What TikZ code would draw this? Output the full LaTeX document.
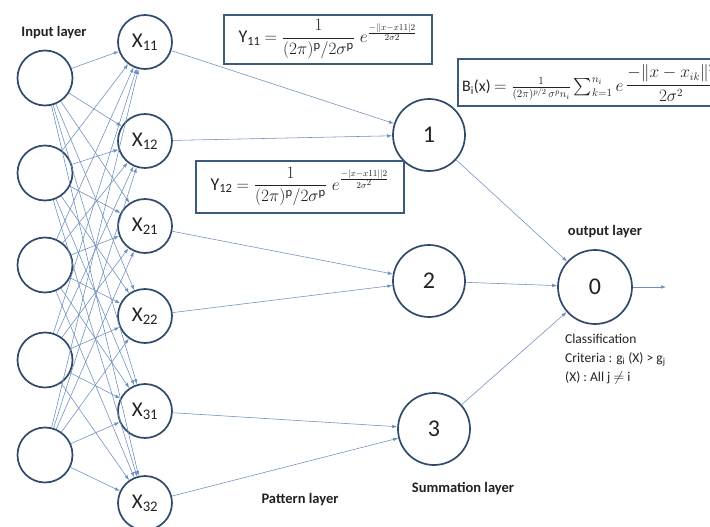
\documentclass[tikz,border=0pt]{standalone}
\usepackage{amsmath}
\usepackage{fontspec}
\setmainfont{Carlito}
\usetikzlibrary{arrows.meta}
\definecolor{circc}{HTML}{2F4A6A}
\definecolor{connc}{HTML}{6C8DBE}
\definecolor{boxc}{HTML}{3C5A80}
\definecolor{txtc}{HTML}{222222}
\begin{document}
\begin{tikzpicture}[x=1pt,y=-1pt,
  inp/.style={circle,draw=circc,line width=1.7pt,fill=white,minimum size=55pt,inner sep=0pt},
  pat/.style={circle,draw=circc,line width=1.7pt,fill=white,minimum size=54pt,inner sep=0pt,text=txtc,font=\fontsize{21}{21}\selectfont},
  summ/.style={circle,draw=circc,line width=1.7pt,fill=white,minimum size=72pt,inner sep=0pt,text=txtc,font=\fontsize{24}{24}\selectfont},
  conn/.style={draw=connc,line width=0.55pt,-{Latex[length=5pt,width=3.5pt]}},
  fbox/.style={draw=boxc,line width=1.6pt,fill=white,inner sep=0pt},
  lay/.style={text=txtc,font=\fontsize{14.5}{14.5}\selectfont\bfseries}
]
\useasboundingbox (0,0) rectangle (710,527);
\fill[white] (0,0) rectangle (710,527);

% input layer
\node[inp] (i1) at (45,78) {};
\node[inp] (i2) at (45,173) {};
\node[inp] (i3) at (45,265) {};
\node[inp] (i4) at (45,360) {};
\node[inp] (i5) at (45,455) {};

% pattern layer
\node[pat] (x11) at (145,42) {X\textsubscript{11}};
\node[pat] (x12) at (145,141) {X\textsubscript{12}};
\node[pat] (x21) at (145,226) {X\textsubscript{21}};
\node[pat] (x22) at (145,316) {X\textsubscript{22}};
\node[pat] (x31) at (145,411) {X\textsubscript{31}};
\node[pat] (x32) at (145,503) {X\textsubscript{32}};

% summation layer
\node[summ] (s1) at (429,135) {1};
\node[summ] (s2) at (429,281) {2};
\node[summ] (s3) at (434,429) {3};

% output
\node[summ,minimum size=74pt] (o) at (595,287) {0};
\coordinate (out) at (666,287);

% connections input -> pattern
\foreach \i in {1,...,5}{
  \foreach \x in {11,12,21,22,31,32}{
    \draw[conn] (i\i) -- (x\x);
  }
}
% pattern -> summation
\draw[conn] (x11) -- (s1);
\draw[conn] (x12) -- (s1);
\draw[conn] (x21) -- (s2);
\draw[conn] (x22) -- (s2);
\draw[conn] (x31) -- (s3);
\draw[conn] (x32) -- (s3);
% summation -> output
\draw[conn] (s1) -- (o);
\draw[conn] (s2) -- (o);
\draw[conn] (s3) -- (o);
\draw[conn] (o) -- (out);

% formula boxes
\node[fbox,minimum width=208pt,minimum height=49pt,anchor=north west,text=txtc,font=\fontsize{18}{20}\selectfont] (y11) at (223,14)
  {Y\textsubscript{11} $= \dfrac{1}{(2\pi)^{\mathrm{p}}/2\sigma^{\mathrm{p}}}\; e^{\frac{-||x-x11|2}{2\sigma2}}$};
\node[fbox,minimum width=208pt,minimum height=52pt,anchor=north west,text=txtc,font=\fontsize{18}{20}\selectfont] (y12) at (195,160)
  {Y\textsubscript{12} $= \dfrac{1}{(2\pi)^{\mathrm{p}}/2\sigma^{\mathrm{p}}}\; e^{\frac{-|x-x11||2}{2\sigma^2}}$};
\draw[fbox] (458,59) rectangle (720,106);
\begin{scope}
  \clip (459,60) rectangle (710,105);
  \node[anchor=west,inner sep=0pt,text=txtc,font=\fontsize{16}{18}\selectfont] (bform) at (462,83)
    {B\textsubscript{i}(x) $= \frac{1}{(2\pi)^{p/2}\,\sigma^{p}n_{i}}\sum_{k=1}^{n_i} e\,\raisebox{2pt}{$\dfrac{-\|x-x_{ik}\|^2}{2\sigma^2}$}$};
\end{scope}

% labels
\node[lay] (linput) at (54,33) {Input layer};
\node[lay] (lout) at (605,232) {output layer};
\node[lay] (lpat) at (300,500) {Pattern layer};
\node[lay] (lsum) at (463,489) {Summation layer};
\node[anchor=north west,align=left,inner sep=0pt,text=txtc,font=\fontsize{13.5}{19}\selectfont] (crit) at (565,334)
  {Classification\\Criteria : g\textsubscript{i} (X) > g\textsubscript{j}\\(X) : All j $\neq$ i};
\end{tikzpicture}
\end{document}
